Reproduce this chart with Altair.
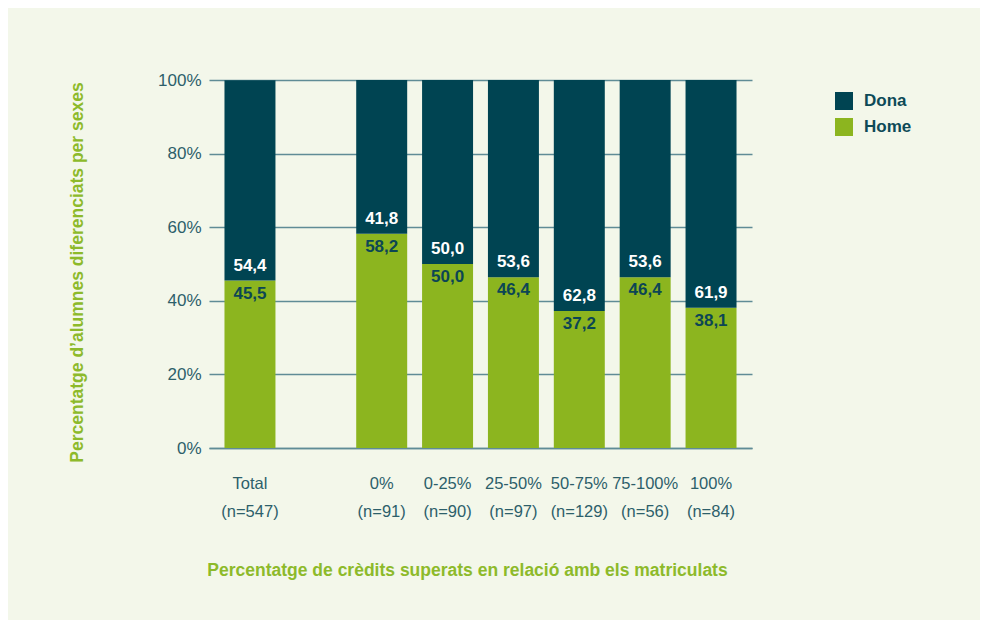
import altair as alt
import pandas as pd

categories = ["Total|(n=547)", "0%|(n=91)", "0-25%|(n=90)", "25-50%|(n=97)",
              "50-75%|(n=129)", "75-100%|(n=56)", "100%|(n=84)"]
domain_order = ["Total|(n=547)", " ", "0%|(n=91)", "0-25%|(n=90)", "25-50%|(n=97)",
                "50-75%|(n=129)", "75-100%|(n=56)", "100%|(n=84)"]
dona = [54.4, 41.8, 50.0, 53.6, 62.8, 53.6, 61.9]
home = [45.5, 58.2, 50.0, 46.4, 37.2, 46.4, 38.1]
series = ["Dona", "Home"]

rows = []
for c, d, h in zip(categories, dona, home):
    rows.append({"cat": c, "sexe": "Home", "val": h, "ord": 0, "home": h})
    rows.append({"cat": c, "sexe": "Dona", "val": d, "ord": 1, "home": h})
df = pd.DataFrame(rows)

FONT = "Liberation Sans"
TEAL = "#004452"
GREEN = "#8cb51f"
AXIS_TXT = "#2d5f6a"
GRID = "#5f8c96"
TITLE_GREEN = "#8dba2a"

x_enc = alt.X("cat:N", scale=alt.Scale(domain=domain_order, paddingInner=0.226, paddingOuter=0.235),
              axis=alt.Axis(title="Percentatge de crèdits superats en relació amb els matriculats",
                            labelExpr="split(datum.label, '|')", labelAngle=0,
                            labelFontSize=16.5, labelColor=AXIS_TXT, labelFont=FONT,
                            labelLineHeight=28, labelPadding=27, ticks=False,
                            domainColor=GRID, domainWidth=1.5,
                            titleFont=FONT, titleFontSize=17.5, titleFontWeight="bold",
                            titleColor=TITLE_GREEN, titleX=258, titleY=122,
                            titleAlign="center", titleBaseline="middle"))

bars = alt.Chart(df).mark_bar().encode(
    x=x_enc,
    y=alt.Y("val:Q", stack="zero", scale=alt.Scale(domain=[0, 100], nice=False),
            axis=alt.Axis(title="Percentatge d’alumnes diferenciats per sexes",
                          values=[0, 20, 40, 60, 80, 100], labelExpr="datum.value + '%'",
                          labelFontSize=17, labelColor=AXIS_TXT, labelFont=FONT,
                          labelPadding=8, ticks=False, domain=False,
                          grid=True, gridColor=GRID, gridWidth=1.5,
                          titleFont=FONT, titleFontSize=17.5, titleFontWeight="bold",
                          titleColor=TITLE_GREEN, titleX=-132, titleY=192,
                          titleAngle=270, titleAlign="center", titleBaseline="middle")),
    color=alt.Color("sexe:N", scale=alt.Scale(domain=series, range=[TEAL, GREEN]),
                    legend=alt.Legend(title=None, orient="none", legendX=626, legendY=12,
                                      symbolType="square", symbolSize=324, symbolStrokeWidth=0,
                                      symbolOpacity=1, labelFont=FONT, labelFontSize=17,
                                      labelFontWeight="bold", labelColor="#0d4a57",
                                      labelOffset=11, rowPadding=8, padding=0)),
    order=alt.Order("ord:Q"),
)

base_txt = alt.Chart(df).transform_calculate(
    lbl="replace(format(datum.val, '.1f'), '.', ',')"
)

dona_txt = base_txt.transform_filter(alt.datum.sexe == "Dona").mark_text(
    font=FONT, fontSize=17, fontWeight="bold", color="white", dy=-10, baseline="alphabetic"
).encode(x=alt.X("cat:N", scale=alt.Scale(domain=domain_order)), y=alt.Y("home:Q"), text="lbl:N")

home_txt = base_txt.transform_filter(alt.datum.sexe == "Home").mark_text(
    font=FONT, fontSize=17, fontWeight="bold", color="#0c4654", dy=18, baseline="alphabetic"
).encode(x=alt.X("cat:N", scale=alt.Scale(domain=domain_order)), y=alt.Y("home:Q"), text="lbl:N")

chart = alt.layer(bars, dona_txt, home_txt).properties(
    width=543, height=368,
    autosize=alt.AutoSizeParams(type="none"),
    padding={"left": 201, "top": 72, "right": 228, "bottom": 172},
    background="#f3f7ea",
).configure_view(stroke=None)

chart.save("out.html", embed_options={"renderer": "svg", "actions": False})
